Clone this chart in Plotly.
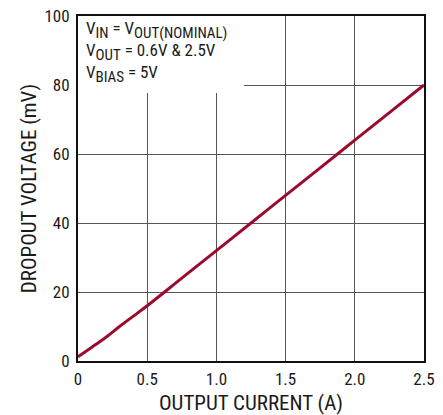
import plotly.graph_objects as go

current_a = [0.0, 0.1, 0.2, 0.3, 0.4, 0.5, 0.75, 1.0, 1.25, 1.5, 1.75, 2.0, 2.25, 2.5]
dropout_mv = [1.2, 4.0, 6.8, 10.0, 13.0, 16.0, 24.0, 32.0, 40.0, 48.0, 56.0, 64.0, 72.0, 80.0]

x_ticks = [0, 0.5, 1.0, 1.5, 2.0, 2.5]
x_tick_labels = ["0", "0.5", "1.0", "1.5", "2.0", "2.5"]
y_ticks = [0, 20, 40, 60, 80, 100]


def sub(s):
    return "<sub><span style='font-size:15px'>" + s + "</span></sub>"


note_text = "<br>".join([
    "V" + sub("IN") + " = V" + sub("OUT(NOMINAL)"),
    "V" + sub("OUT") + " = 0.6V & 2.5V",
    "V" + sub("BIAS") + " = 5V",
])

FONT = "Roboto Condensed, Liberation Sans Narrow, sans-serif"
TXT = "#1a1a1a"

fig = go.Figure()
fig.add_trace(go.Scatter(x=current_a, y=dropout_mv, mode="lines",
                         line=dict(color="#9b0b2d", width=3, shape="spline"),
                         showlegend=False, hoverinfo="skip"))

fig.add_shape(type="rect", xref="x", yref="y", x0=0, x1=1.2, y0=77.7, y1=100,
              fillcolor="white", line=dict(width=0), layer="between")

fig.add_annotation(
    xref="x", yref="y", x=0.04, y=99.9, xanchor="left", yanchor="top",
    align="left", showarrow=False, text=note_text,
    font=dict(family=FONT, size=17, color=TXT),
)

fig.update_layout(
    width=443, height=415,
    margin=dict(l=78, r=19, t=16, b=54),
    paper_bgcolor="white", plot_bgcolor="white",
    font=dict(family=FONT, size=17, color=TXT),
)
fig.update_xaxes(range=[0, 2.5], tickvals=x_ticks, ticktext=x_tick_labels,
                 showgrid=True, gridcolor="#555", gridwidth=1,
                 showline=True, linecolor="#111", linewidth=2, mirror=True,
                 ticks="", zeroline=False, automargin=False,
                 ticklabelstandoff=2,
                 title=dict(text="OUTPUT CURRENT (A)", standoff=11,
                            font=dict(size=21)))
fig.update_yaxes(range=[0, 100], tickvals=y_ticks,
                 showgrid=True, gridcolor="#555", gridwidth=1,
                 showline=True, linecolor="#111", linewidth=2, mirror=True,
                 ticks="", zeroline=False, automargin=False,
                 ticklabelstandoff=3,
                 title=dict(text="DROPOUT VOLTAGE (mV)", standoff=2,
                            font=dict(size=21)))

fig.write_html("out.html", config={"displayModeBar": False},
               post_script="document.body.style.margin='0';document.body.style.overflow='hidden';")
